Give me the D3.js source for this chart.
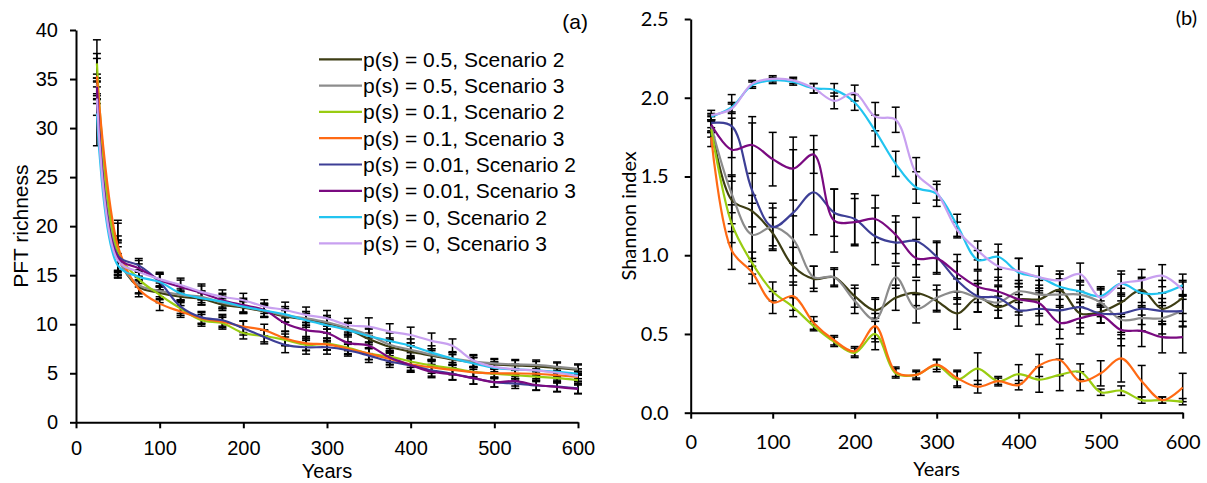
<!DOCTYPE html>
<html><head><meta charset="utf-8">
<script src="https://cdn.jsdelivr.net/npm/d3@7"></script>
<style>body{margin:0;background:#fff}svg{display:block}</style>
</head><body>
<svg id="c" width="1207" height="483"></svg>
<script>
const years = [25,50,75,100,125,150,175,200,225,250,275,300,325,350,375,400,425,450,475,500,525,550,575,600];
const seriesNames = ["p(s) = 0.5, Scenario 2","p(s) = 0.5, Scenario 3","p(s) = 0.1, Scenario 2","p(s) = 0.1, Scenario 3","p(s) = 0.01, Scenario 2","p(s) = 0.01, Scenario 3","p(s) = 0, Scenario 2","p(s) = 0, Scenario 3"];
const seriesColors = ["#3d3d14","#8c8c8c","#99cc11","#ff6a14","#3d3f96","#7a0a80","#22c4f0","#c8a0f0"];

// Panel (a): PFT richness
const richA = {
  olive:   [35.0,17.0,13.8,13.2,12.8,12.6,12.0,11.7,11.3,10.8,10.5,10.1,9.5,8.5,7.7,7.2,6.8,6.4,6.1,5.9,5.8,5.7,5.55,5.35],
  gray:    [34.5,16.8,14.0,13.4,13.0,12.8,12.2,11.8,11.4,10.9,10.6,10.2,9.6,8.9,7.9,7.4,6.9,6.5,6.2,6.0,5.9,5.85,5.65,5.45],
  green:   [36.6,17.5,14.6,13.0,11.6,10.4,10.1,9.1,8.8,8.4,7.9,8.0,7.6,7.0,6.7,6.2,5.8,5.5,5.15,4.95,4.8,4.65,4.5,4.3],
  orange:  [35.3,18.0,13.6,12.1,11.3,10.6,10.25,9.75,9.4,8.55,8.05,7.95,7.5,7.0,6.45,5.9,5.6,5.35,5.1,5.0,4.98,4.95,4.8,4.62],
  navy:    [33.8,17.0,16.0,14.3,11.8,10.7,10.4,9.6,8.7,7.9,7.65,7.65,7.35,6.8,6.2,5.8,5.3,4.95,4.5,4.1,3.95,3.75,3.65,3.45],
  purple:  [34.2,16.8,15.7,14.5,13.8,13.2,12.45,11.95,11.45,10.1,9.4,9.1,8.1,7.8,6.6,5.85,5.15,4.9,4.5,4.1,4.2,3.8,3.6,3.4],
  cyan:    [31.5,16.0,14.85,14.3,13.15,12.65,12.3,11.8,11.4,11.0,10.4,9.9,9.4,8.8,8.3,7.8,7.1,6.5,6.0,5.55,5.4,5.3,5.15,4.95],
  lavender:[33.0,16.5,15.35,14.6,14.0,13.3,12.8,12.45,11.8,11.45,10.95,10.6,9.9,9.75,9.25,8.9,8.3,7.8,6.3,5.65,5.4,5.3,5.05,4.7]
};
const errA = {
  olive:   [2.1,1.5,0.7,0.7,0.6,0.6,0.6,0.6,0.6,0.6,0.6,0.6,0.6,0.6,0.6,0.6,0.5,0.5,0.5,0.5,0.5,0.5,0.5,0.5],
  gray:    [1.0,1.8,0.8,0.8,0.6,0.6,0.6,0.6,0.6,0.7,0.7,0.7,0.6,0.7,0.7,0.7,0.6,0.6,0.6,0.5,0.5,0.5,0.5,0.5],
  green:   [2.4,2.8,0.8,0.8,0.7,0.6,0.6,0.6,0.6,0.6,0.6,0.6,0.6,0.6,0.6,0.6,0.6,0.6,0.5,0.5,0.5,0.5,0.5,0.5],
  orange:  [2.3,2.6,0.8,0.7,0.6,0.6,0.6,0.6,0.6,0.7,0.7,0.6,0.6,0.6,0.6,0.6,0.6,0.5,0.5,0.5,0.5,0.5,0.5,0.5],
  navy:    [1.3,2.0,0.7,0.8,0.7,0.6,0.6,0.7,0.7,0.8,0.7,0.7,0.6,0.7,0.6,0.7,0.6,0.6,0.6,0.5,0.5,0.5,0.5,0.5],
  purple:  [0.9,1.5,0.8,0.7,0.7,0.7,0.7,0.7,0.7,0.8,0.8,0.9,0.8,0.8,0.7,0.7,0.6,0.6,0.6,0.5,0.5,0.5,0.5,0.5],
  cyan:    [3.3,1.2,0.7,0.8,0.7,0.7,0.7,0.7,0.7,0.8,0.7,0.8,0.7,0.7,0.8,0.7,0.7,0.7,0.6,0.6,0.5,0.5,0.5,0.5],
  lavender:[1.7,1.4,0.8,0.7,0.7,0.8,0.7,0.7,0.7,0.8,0.8,0.8,0.7,0.9,0.8,0.8,0.8,0.7,0.6,0.5,0.5,0.5,0.5,0.5]
};

// Panel (b): Shannon index
const shanB = {
  olive:   [1.82,1.35,1.28,1.14,0.93,0.85,0.86,0.74,0.65,0.73,0.76,0.71,0.63,0.73,0.67,0.72,0.72,0.78,0.63,0.64,0.70,0.78,0.66,0.73],
  gray:    [1.82,1.39,1.13,1.18,1.10,0.86,0.86,0.71,0.59,0.86,0.66,0.73,0.77,0.73,0.70,0.77,0.75,0.75,0.75,0.70,0.59,0.60,0.60,0.65],
  green:   [1.80,1.20,0.95,0.77,0.67,0.55,0.45,0.38,0.50,0.25,0.24,0.30,0.21,0.28,0.20,0.245,0.21,0.24,0.26,0.13,0.14,0.08,0.08,0.07],
  orange:  [1.75,1.03,0.89,0.70,0.74,0.57,0.46,0.39,0.55,0.26,0.24,0.305,0.22,0.165,0.20,0.175,0.30,0.335,0.20,0.25,0.345,0.20,0.08,0.16],
  navy:    [1.84,1.82,1.41,1.18,1.27,1.40,1.27,1.23,1.12,1.08,1.09,0.99,0.84,0.74,0.73,0.65,0.66,0.65,0.67,0.63,0.63,0.66,0.645,0.645],
  purple:  [1.83,1.67,1.70,1.61,1.55,1.64,1.22,1.21,1.23,1.13,0.98,0.98,0.885,0.80,0.77,0.72,0.695,0.57,0.60,0.62,0.525,0.52,0.48,0.48],
  cyan:    [1.88,1.94,2.08,2.11,2.10,2.06,2.05,1.97,1.79,1.58,1.43,1.39,1.19,0.97,0.99,0.89,0.86,0.80,0.77,0.74,0.82,0.76,0.76,0.81],
  lavender:[1.89,1.93,2.09,2.12,2.11,2.06,1.98,2.03,1.88,1.86,1.52,1.40,1.16,1.03,0.93,0.90,0.86,0.84,0.88,0.73,0.82,0.84,0.87,0.78]
};
const errB = {
  olive:   [0.04,0.15,0.10,0.10,0.12,0.08,0.06,0.07,0.07,0.08,0.08,0.07,0.10,0.09,0.07,0.08,0.09,0.10,0.09,0.07,0.09,0.08,0.10,0.10],
  gray:    [0.04,0.12,0.20,0.12,0.15,0.07,0.05,0.08,0.14,0.07,0.09,0.08,0.08,0.09,0.10,0.07,0.09,0.10,0.08,0.09,0.12,0.08,0.10,0.10],
  green:   [0.05,0.12,0.07,0.06,0.06,0.03,0.03,0.03,0.10,0.03,0.03,0.04,0.05,0.10,0.02,0.06,0.08,0.10,0.05,0.02,0.03,0.02,0.02,0.02],
  orange:  [0.06,0.12,0.07,0.07,0.09,0.04,0.03,0.03,0.08,0.03,0.02,0.03,0.05,0.04,0.03,0.03,0.07,0.10,0.06,0.08,0.15,0.10,0.02,0.09],
  navy:    [0.05,0.20,0.43,0.15,0.40,0.27,0.15,0.16,0.18,0.13,0.15,0.10,0.12,0.10,0.08,0.10,0.10,0.12,0.10,0.06,0.12,0.10,0.08,0.10],
  purple:  [0.05,0.20,0.18,0.17,0.20,0.12,0.20,0.15,0.15,0.12,0.12,0.10,0.12,0.10,0.09,0.10,0.08,0.10,0.10,0.05,0.10,0.10,0.10,0.10],
  cyan:    [0.02,0.03,0.02,0.02,0.02,0.03,0.04,0.05,0.10,0.08,0.10,0.08,0.07,0.06,0.08,0.09,0.07,0.08,0.07,0.06,0.08,0.09,0.08,0.07],
  lavender:[0.03,0.03,0.02,0.02,0.02,0.03,0.05,0.05,0.09,0.08,0.10,0.05,0.05,0.06,0.09,0.08,0.07,0.06,0.07,0.05,0.06,0.07,0.07,0.06]
};
const keys = ["olive","gray","green","orange","navy","purple","cyan","lavender"];
const ticksA = [0,5,10,15,20,25,30,35,40];
const ticksB = [0,0.5,1.0,1.5,2.0,2.5];
const ticksX = [0,100,200,300,400,500,600];

const svg = d3.select("#c");

function panel(cfg){
  const g = svg.append("g");
  const x = d3.scaleLinear().domain([0,600]).range(cfg.xr);
  const y = d3.scaleLinear().domain(cfg.yd).range(cfg.yr);
  const line = d3.line().x((d,i)=>x(years[i])).y(d=>y(d)).curve(d3.curveCatmullRom.alpha(0.5));
  keys.forEach((k,si)=>{
    const vals = cfg.data[k], errs = cfg.err[k];
    const eb = g.append("g").attr("stroke","#000").attr("stroke-width",1.5);
    vals.forEach((v,i)=>{
      const xx = x(years[i]), y1 = y(v-errs[i]), y2 = y(v+errs[i]);
      eb.append("line").attr("x1",xx).attr("x2",xx).attr("y1",y1).attr("y2",y2);
      eb.append("line").attr("x1",xx-4).attr("x2",xx+4).attr("y1",y1).attr("y2",y1);
      eb.append("line").attr("x1",xx-4).attr("x2",xx+4).attr("y1",y2).attr("y2",y2);
    });
  });
  keys.forEach((k,si)=>{
    g.append("path").datum(cfg.data[k]).attr("fill","none")
      .attr("stroke",seriesColors[si]).attr("stroke-width",2.2).attr("d",line);
  });
  const ya = g.append("g").attr("transform",`translate(${cfg.xr[0]},0)`)
    .call(d3.axisLeft(y).tickValues(cfg.yt).tickSize(6).tickSizeOuter(0).tickPadding(cfg.ypad).tickFormat(cfg.yf));
  const xa = g.append("g").attr("transform",`translate(0,${cfg.yr[0]})`)
    .call(d3.axisBottom(x).tickValues(ticksX).tickSize(6).tickSizeOuter(0).tickPadding(cfg.xpad));
  [ya,xa].forEach(a=>{
    a.select(".domain").attr("stroke","#000").attr("stroke-width",2);
    a.selectAll(".tick line").attr("stroke","#000").attr("stroke-width",2);
    a.selectAll("text").attr("font-family",cfg.font).attr("font-size",cfg.fs).attr("fill","#000");
  });
  g.append("text").attr("transform",`translate(${cfg.ytx},${(cfg.yr[0]+cfg.yr[1])/2}) rotate(-90)`)
    .attr("text-anchor","middle").attr("font-family",cfg.font).attr("font-size",cfg.tfs).text(cfg.ytitle);
  g.append("text").attr("x",(cfg.xr[0]+cfg.xr[1])/2).attr("y",cfg.xty).attr("text-anchor","middle")
    .attr("font-family",cfg.font).attr("font-size",cfg.xtfs).text("Years");
  g.append("text").attr("x",cfg.lab[0]).attr("y",cfg.lab[1]).attr("text-anchor","end")
    .attr("font-family",cfg.font).attr("font-size",cfg.tfs).text(cfg.label);
  return g;
}

panel({xr:[76,578], yd:[0,40], yr:[422.3,30], data:richA, err:errA, yt:ticksA, yf:d3.format("d"),
  ypad:12, xpad:12.5, font:"'Liberation Sans', Arial, sans-serif", fs:20, tfs:21, xtfs:20,
  ytitle:"PFT richness", ytx:28, xty:478, label:"(a)", lab:[588,29]});
panel({xr:[690.7,1182.7], yd:[0,2.5], yr:[412.7,19], data:shanB, err:errB, yt:ticksB, yf:d3.format(".1f"),
  ypad:16, xpad:16, font:"Lato, 'Open Sans', sans-serif", fs:20, tfs:20, xtfs:20,
  ytitle:"Shannon index", ytx:636, xty:476, label:"(b)", lab:[1197,25]});

// Legend
const lg = svg.append("g");
seriesNames.forEach((n,i)=>{
  const yy = 59.3 + i*26.3;
  lg.append("line").attr("x1",319).attr("x2",362).attr("y1",yy).attr("y2",yy)
    .attr("stroke",seriesColors[i]).attr("stroke-width",2.2);
  lg.append("text").attr("x",363).attr("y",yy+7.5).attr("font-family","'Liberation Sans', Arial, sans-serif")
    .attr("font-size",21).text(n);
});
</script>
</body></html>
